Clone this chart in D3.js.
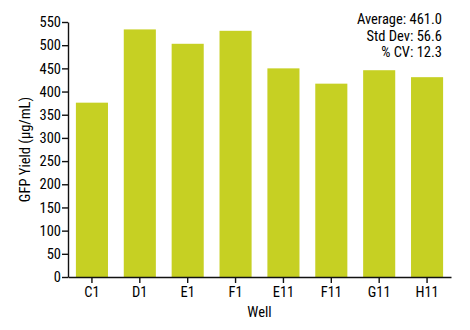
<!DOCTYPE html>
<html>
<head>
<meta charset="utf-8">
<script src="https://cdn.jsdelivr.net/npm/d3@7"></script>
<style>
  html, body { margin: 0; padding: 0; background: #fff; }
  svg text { font-family: "Liberation Sans Narrow", "Roboto Condensed", "DejaVu Sans Condensed", sans-serif; fill: #000; }
</style>
</head>
<body>
<svg id="chart" width="470" height="330"></svg>
<script>
// Wells and measured GFP yields (µg/mL)
const wells = ["C1", "D1", "E1", "F1", "E11", "F11", "G11", "H11"];
const yields = [376, 534, 503, 531, 450, 417, 446, 431];
const yTicks = [0, 50, 100, 150, 200, 250, 300, 350, 400, 450, 500, 550];
const statLines = ["Average: 461.0", "Std Dev: 56.6", "% CV: 12.3"];

const svg = d3.select("#chart");
const margin = { left: 68, right: 19, top: 22, bottom: 53 };
const W = 470, H = 330;
const FS = 14.5;

const x = d3.scaleBand()
  .domain(wells)
  .range([margin.left, W - margin.right])
  .paddingInner(0.33)
  .paddingOuter(0.165);

const y = d3.scaleLinear()
  .domain([0, 550])
  .range([H - margin.bottom, margin.top]);

// Bars
svg.append("g")
  .selectAll("rect")
  .data(wells.map((w, i) => ({ w, v: yields[i] })))
  .join("rect")
  .attr("x", d => x(d.w))
  .attr("y", d => y(d.v))
  .attr("width", x.bandwidth())
  .attr("height", d => y(0) - y(d.v))
  .attr("fill", "#c6d023");

// Y axis
const yAxis = svg.append("g")
  .attr("transform", `translate(${margin.left},0)`)
  .call(d3.axisLeft(y).tickValues(yTicks).tickSize(6).tickPadding(1).tickSizeOuter(0));

// X axis
const xAxis = svg.append("g")
  .attr("transform", `translate(0,${y(0)})`)
  .call(d3.axisBottom(x).tickSize(6).tickPadding(4).tickSizeOuter(0));

[yAxis, xAxis].forEach(g => {
  g.selectAll("path, line").attr("stroke", "#111").attr("stroke-width", 1.4);
  g.selectAll("text").attr("font-size", FS).attr("fill", "#000")
    .style("font-family", "'Liberation Sans Narrow', 'Roboto Condensed', 'DejaVu Sans Condensed', sans-serif");
});

// Axis titles
svg.append("text")
  .attr("x", (margin.left + W - margin.right) / 2)
  .attr("y", 317)
  .attr("text-anchor", "middle")
  .attr("font-size", FS)
  .text("Well");

svg.append("text")
  .attr("transform", `translate(30,${(y(0) + y(550)) / 2}) rotate(-90)`)
  .attr("text-anchor", "middle")
  .attr("font-size", FS)
  .text("GFP Yield (µg/mL)");

// Summary statistics
svg.append("g")
  .selectAll("text")
  .data(statLines)
  .join("text")
  .attr("x", 442)
  .attr("y", (d, i) => 24 + i * 16.5)
  .attr("text-anchor", "end")
  .attr("font-size", FS)
  .text(d => d);
</script>
</body>
</html>
